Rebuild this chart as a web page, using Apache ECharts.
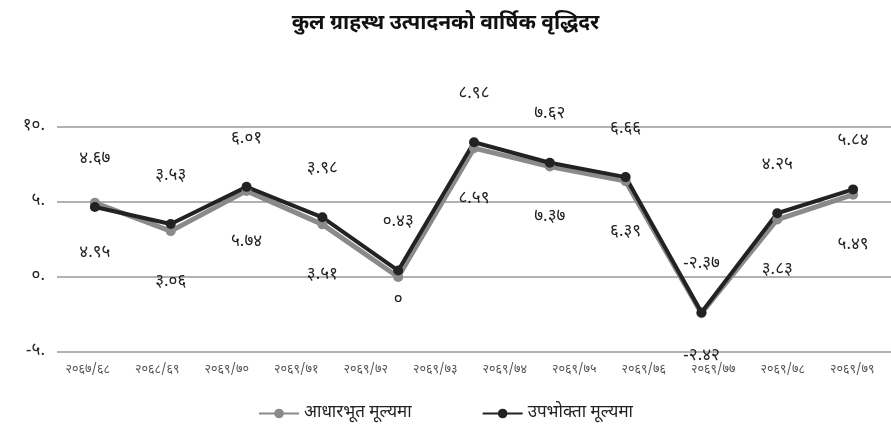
<!DOCTYPE html>
<html>
<head>
<meta charset="utf-8">
<script src="https://cdn.jsdelivr.net/npm/echarts@6/dist/echarts.min.js"></script>
<style>
    html, body { margin: 0; padding: 0; background: #fff; }
    #chart { width: 891px; height: 433px; }
</style>
</head>
<body>
<div id="chart"></div>
<script>
    // tick labels along the bottom (12 of them, as printed)
    let years = ['२०६७/६८', '२०६८/६९', '२०६९/७०', '२०६९/७१', '२०६९/७२', '२०६९/७३',
        '२०६९/७४', '२०६९/७५', '२०६९/७६', '२०६९/७७', '२०६९/७८', '२०६९/७९'];
    // the plotted points (11 of them)
    let pointYears = ['२०६७/६८', '२०६८/६९', '२०६९/७०', '२०७०/७१', '२०७१/७२', '२०७२/७३',
        '२०७३/७४', '२०७४/७५', '२०७५/७६', '२०७६/७७', '२०७७/७८'];
    let basicPrice = [4.95, 3.06, 5.74, 3.51, 0, 8.59, 7.37, 6.39, -2.42, 3.83, 5.49];
    let consumerPrice = [4.67, 3.53, 6.01, 3.98, 0.43, 8.98, 7.62, 6.66, -2.37, 4.25, 5.84];
    let seriesNames = ['आधारभूत मूल्यमा', 'उपभोक्ता मूल्यमा'];
    let yTicks = [-5, 0, 5, 10];

    const devFont = '"Noto Sans Devanagari", "Noto Sans", sans-serif';

    function toDevanagari(s) {
        const digits = '०१२३४५६७८९';
        return String(s).replace(/[0-9]/g, function (d) { return digits[+d]; });
    }

    let chart = echarts.init(document.getElementById('chart'));
    let option = {
        backgroundColor: '#fff',
        title: {
            text: 'कुल ग्राहस्थ उत्पादनको वार्षिक वृद्धिदर',
            left: 'center',
            top: 10,
            textStyle: {
                fontFamily: devFont,
                fontSize: 21,
                fontWeight: 'bold',
                color: '#111'
            }
        },
        legend: {
            bottom: 6,
            left: 'center',
            itemWidth: 40,
            itemHeight: 12,
            itemGap: 70,
            data: seriesNames,
            textStyle: {
                fontFamily: devFont,
                fontSize: 17,
                color: '#222'
            }
        },
        grid: {
            left: 57,
            right: -4,
            top: 127,
            bottom: 81
        },
        xAxis: [
            {
                type: 'category',
                data: pointYears,
                boundaryGap: true,
                axisLine: { show: false },
                axisTick: { show: false },
                axisLabel: { show: false }
            },
            {
                type: 'category',
                data: years,
                position: 'bottom',
                boundaryGap: true,
                axisLine: { show: false },
                axisTick: { show: false },
                axisLabel: {
                    margin: 12,
                    padding: [0, 8, 0, 0],
                    fontFamily: devFont,
                    fontSize: 12.5,
                    color: '#555'
                }
            }
        ],
        yAxis: {
            type: 'value',
            min: yTicks[0],
            max: yTicks[yTicks.length - 1],
            interval: 5,
            axisLine: { show: false },
            axisTick: { show: false },
            axisLabel: {
                margin: 12,
                fontFamily: devFont,
                fontSize: 17,
                color: '#222',
                formatter: function (v) {
                    return toDevanagari(v) + '.';
                }
            },
            splitLine: {
                lineStyle: { color: '#999', width: 1.5 }
            }
        },
        series: [
            {
                name: seriesNames[0],
                type: 'line',
                xAxisIndex: 0,
                data: basicPrice.map(function (v) {
                    if (v === 0) {
                        return { value: v, label: { distance: 10 } };
                    }
                    if (v < 0) {
                        return { value: v, label: { distance: 30 } };
                    }
                    return v;
                }),
                color: '#8a8a8a',
                symbol: 'circle',
                symbolSize: 10,
                lineStyle: { width: 5, color: '#8a8a8a' },
                label: {
                    show: true,
                    position: 'bottom',
                    distance: 38,
                    fontFamily: devFont,
                    fontSize: 17,
                    color: '#222',
                    formatter: function (p) { return toDevanagari(p.value); }
                }
            },
            {
                name: seriesNames[1],
                type: 'line',
                xAxisIndex: 0,
                data: consumerPrice,
                color: '#222',
                symbol: 'circle',
                symbolSize: 10,
                lineStyle: { width: 4, color: '#222' },
                label: {
                    show: true,
                    position: 'top',
                    distance: 34,
                    fontFamily: devFont,
                    fontSize: 17,
                    color: '#222',
                    formatter: function (p) { return toDevanagari(p.value); }
                }
            }
        ]
    };
    chart.setOption(option);
</script>
</body>
</html>
